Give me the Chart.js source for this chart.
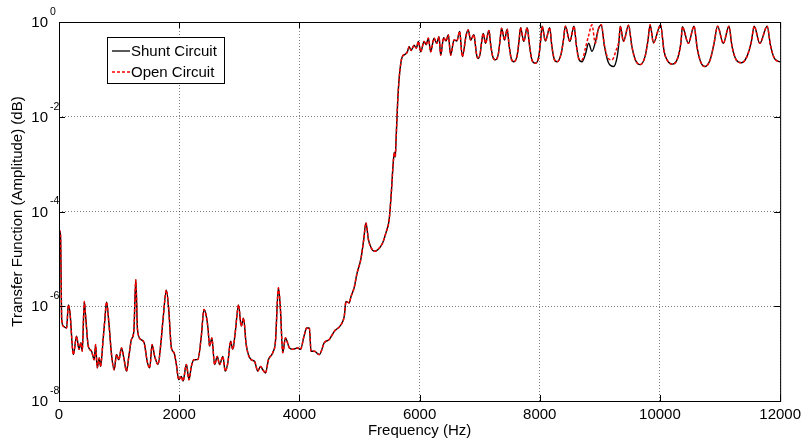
<!DOCTYPE html>
<html>
<head>
<meta charset="utf-8">
<script src="https://cdn.jsdelivr.net/npm/chart.js@4/dist/chart.umd.min.js"></script>
<style>
  html, body { margin: 0; padding: 0; background: #fff; }
  #wrap { width: 806px; height: 447px; position: relative; }
</style>
</head>
<body>
<div id="wrap"><canvas id="chart"></canvas></div>
<script>
// frequency (Hz) and log10 amplitude
const shuntFreq = [
  0, 25, 45, 72, 127, 155, 183, 238, 293, 332, 365, 387, 421, 443, 487, 542, 586, 609, 636, 670,
  691, 736, 763, 791, 830, 874, 918, 957, 996, 1040, 1084, 1123, 1162, 1206, 1245, 1278, 1306, 1361, 1416, 1472,
  1510, 1549, 1593, 1648, 1693, 1731, 1787, 1826, 1870, 1914, 1953, 1992, 2036, 2064, 2119, 2163, 2202, 2246, 2312, 2368,
  2412, 2451, 2479, 2506, 2544, 2589, 2634, 2672, 2727, 2766, 2810, 2855, 2893, 2932, 2988, 3032, 3071, 3115, 3198, 3253,
  3308, 3353, 3391, 3436, 3485, 3557, 3602, 3651, 3685, 3723, 3768, 3834, 3889, 3972, 4017, 4083, 4122, 4166, 4194, 4249,
  4332, 4415, 4498, 4581, 4692, 4747, 4775, 4830, 4858, 4913, 4960, 5024, 5070, 5107, 5150, 5200, 5245, 5310, 5383, 5440,
  5494, 5530, 5560, 5580, 5595, 5610, 5635, 5660, 5690, 5714, 5760, 5797, 5826, 5860, 5909, 5945, 5981, 6019, 6075, 6110,
  6146, 6185, 6241, 6285, 6324, 6351, 6400, 6440, 6478, 6517, 6573, 6620, 6667, 6711, 6777, 6810, 6850, 6905, 6930, 6950,
  6976, 7010, 7035, 7059, 7098, 7154, 7185, 7220, 7264, 7310, 7338, 7364, 7414, 7458, 7490, 7525, 7568, 7625, 7655, 7680,
  7734, 7790, 7830, 7870, 7928, 7985, 8012, 8039, 8094, 8166, 8200, 8240, 8287, 8350, 8390, 8426, 8500, 8570, 8610, 8650,
  8702, 8760, 8813, 8869, 8930, 8975, 9024, 9075, 9140, 9228, 9290, 9318, 9339, 9394, 9477, 9532, 9588, 9671, 9754, 9798,
  9837, 9892, 10010, 10069, 10152, 10207, 10296, 10351, 10373, 10473, 10567, 10620, 10680, 10750, 10840, 10900, 10959, 11054, 11148, 11200,
  11270, 11358, 11450, 11520, 11568, 11662, 11784, 11840, 11910, 12000
];
const shuntExp = [
  -4.39, -4.5, -6.28, -6.42, -6.46, -5.97, -6.14, -7.02, -6.63, -6.91, -6.77, -6.95, -5.90, -6.21, -6.84, -6.95, -7.13, -6.81, -7.30, -7.09,
  -7.27, -6.67, -6.28, -5.91, -6.35, -7.02, -7.34, -7.02, -7.13, -6.88, -7.13, -7.37, -7.06, -6.70, -6.53, -5.44, -6.49, -6.70, -6.77, -7.19,
  -7.30, -6.81, -7.06, -7.23, -6.81, -6.28, -5.66, -6.07, -6.88, -6.98, -7.23, -7.55, -7.48, -7.58, -7.23, -7.55, -7.27, -7.13, -7.12, -6.63,
  -6.07, -6.21, -6.46, -6.84, -6.67, -7.23, -7.06, -7.23, -7.06, -7.37, -7.19, -6.74, -6.91, -6.56, -5.97, -6.42, -6.25, -6.81, -7.13, -7.16,
  -7.37, -7.27, -7.34, -7.41, -7.13, -6.98, -6.74, -5.61, -6.07, -6.98, -6.67, -6.88, -6.91, -6.88, -6.91, -6.60, -6.46, -6.46, -6.95, -6.95,
  -7.02, -6.77, -6.70, -6.53, -6.39, -6.21, -5.90, -5.93, -5.80, -5.60, -5.30, -5.00, -4.60, -4.24, -4.60, -4.78, -4.84, -4.80, -4.67, -4.45,
  -4.17, -3.60, -3.00, -2.75, -2.85, -2.45, -1.70, -1.19, -0.85, -0.73, -0.68, -0.63, -0.52, -0.60, -0.49, -0.55, -0.41, -0.63, -0.41, -0.48,
  -0.34, -0.63, -0.34, -0.45, -0.31, -0.70, -0.33, -0.40, -0.27, -0.70, -0.38, -0.40, -0.20, -0.73, -0.27, -0.17, -0.38, -0.27, -0.50, -0.70,
  -0.77, -0.65, -0.40, -0.24, -0.45, -0.18, -0.50, -0.74, -0.80, -0.68, -0.40, -0.13, -0.38, -0.15, -0.50, -0.77, -0.84, -0.70, -0.40, -0.12,
  -0.41, -0.12, -0.50, -0.80, -0.87, -0.72, -0.42, -0.09, -0.40, -0.12, -0.50, -0.78, -0.84, -0.70, -0.42, -0.09, -0.41, -0.09, -0.50, -0.78,
  -0.84, -0.68, -0.45, -0.62, -0.40, -0.15, -0.06, -0.50, -0.85, -0.94, -0.72, -0.42, -0.09, -0.41, -0.07, -0.51, -0.79, -0.90, -0.72, -0.41,
  -0.06, -0.44, -0.06, -0.62, -0.86, -0.89, -0.76, -0.41, -0.10, -0.45, -0.09, -0.55, -0.85, -0.94, -0.78, -0.45, -0.09, -0.45, -0.09, -0.52,
  -0.80, -0.86, -0.72, -0.42, -0.09, -0.45, -0.09, -0.50, -0.78, -0.84
];
// open circuit only departs from the shunt curve between these frequencies
const openFreq = [8702, 8760, 8810, 8869, 8924, 8975, 9024, 9075, 9130, 9200, 9270, 9318, 9339];
const openExp  = [-0.80, -0.55, -0.30, -0.06, -0.45, -0.15, -0.06, -0.48, -0.75, -0.80, -0.60, -0.38, -0.09];

const xTicks = [0, 2000, 4000, 6000, 8000, 10000, 12000];
const yDecades = [0, -2, -4, -6, -8];

const FONT = '"Liberation Sans", Arial, Helvetica, sans-serif';

function toPoints(freqs, exps) {
  return freqs.map((f, i) => ({ x: f, y: Math.pow(10, exps[i]) }));
}

const shuntPts = toPoints(shuntFreq, shuntExp);
const openPts = shuntPts
  .filter(p => p.x < openFreq[0] || p.x > openFreq[openFreq.length - 1])
  .concat(toPoints(openFreq, openExp))
  .sort((a, b) => a.x - b.x);

// MATLAB style frame, inward ticks, exponent tick labels and legend box
const matlabFrame = {
  id: 'matlabFrame',
  afterDraw(chart) {
    const { ctx, chartArea: a, scales } = chart;
    const xs = scales.x, ys = scales.y;
    ctx.save();
    ctx.strokeStyle = '#000';
    ctx.lineWidth = 1;
    ctx.setLineDash([]);
    ctx.strokeRect(a.left + 0.5, a.top + 0.5, a.right - a.left, a.bottom - a.top);

    ctx.beginPath();
    xTicks.forEach(v => {
      const px = Math.round(xs.getPixelForValue(v)) + 0.5;
      ctx.moveTo(px, a.bottom); ctx.lineTo(px, a.bottom - 6);
      ctx.moveTo(px, a.top); ctx.lineTo(px, a.top + 6);
    });
    yDecades.forEach(e => {
      const py = Math.round(ys.getPixelForValue(Math.pow(10, e))) + 0.5;
      ctx.moveTo(a.left, py); ctx.lineTo(a.left + 6, py);
      ctx.moveTo(a.right, py); ctx.lineTo(a.right - 6, py);
    });
    ctx.stroke();

    ctx.fillStyle = '#000';
    yDecades.forEach(e => {
      const py = ys.getPixelForValue(Math.pow(10, e));
      ctx.font = '15px ' + FONT;
      ctx.textAlign = 'right';
      ctx.textBaseline = 'middle';
      ctx.fillText('10', a.left - 11, py + 1);
      ctx.font = '10.5px ' + FONT;
      ctx.textAlign = 'left';
      ctx.fillText(String(e), a.left - 9, py - 10);
    });

    // legend
    const bx = a.left + 48, by = a.top + 15, bw = 117, bh = 46;
    ctx.fillStyle = '#fff';
    ctx.fillRect(bx, by, bw, bh);
    ctx.strokeStyle = '#000';
    ctx.strokeRect(bx + 0.5, by + 0.5, bw, bh);
    const rows = [
      { label: 'Shunt Circuit', color: '#000', dash: [] , y: by + 14 },
      { label: 'Open Circuit', color: '#ff0000', dash: [3, 2], y: by + 35 }
    ];
    rows.forEach(r => {
      ctx.beginPath();
      ctx.strokeStyle = r.color;
      ctx.lineWidth = 1.3;
      ctx.setLineDash(r.dash);
      ctx.moveTo(bx + 5, r.y);
      ctx.lineTo(bx + 23, r.y);
      ctx.stroke();
      ctx.setLineDash([]);
      ctx.fillStyle = '#000';
      ctx.font = '15px ' + FONT;
      ctx.textAlign = 'left';
      ctx.textBaseline = 'middle';
      ctx.fillText(r.label, bx + 24, r.y + 1);
    });
    ctx.restore();
  }
};

new Chart(document.getElementById('chart'), {
  type: 'line',
  data: {
    datasets: [
      {
        label: 'Open Circuit',
        data: openPts,
        borderColor: '#ff0000',
        borderWidth: 1.5,
        borderDash: [3, 2],
        pointRadius: 0,
        cubicInterpolationMode: 'monotone',
        order: 0
      },
      {
        label: 'Shunt Circuit',
        data: shuntPts,
        borderColor: '#000',
        borderWidth: 1.4,
        pointRadius: 0,
        cubicInterpolationMode: 'monotone',
        order: 1
      }
    ]
  },
  options: {
    responsive: true,
    maintainAspectRatio: false,
    animation: false,
    layout: { padding: { top: 22, right: 24, left: 0, bottom: 0 } },
    plugins: { legend: { display: false }, tooltip: { enabled: false } },
    scales: {
      x: {
        type: 'linear',
        min: 0,
        max: 12000,
        afterBuildTicks: s => { s.ticks = xTicks.map(v => ({ value: v })); },
        afterFit: s => { s.height = 46; },
        ticks: {
          color: '#000',
          font: { family: FONT, size: 15 },
          padding: 5,
          maxRotation: 0,
          callback: v => String(v)
        },
        grid: { color: 'rgba(0,0,0,0.5)', lineWidth: 1, drawTicks: false },
        border: { display: false, dash: [1, 2] },
        title: {
          display: true,
          text: 'Frequency (Hz)',
          color: '#000',
          font: { family: FONT, size: 15 },
          padding: { top: 0, bottom: 7 }
        }
      },
      y: {
        type: 'logarithmic',
        min: 1e-8,
        max: 1,
        afterBuildTicks: s => { s.ticks = yDecades.map(e => ({ value: Math.pow(10, e) })); },
        afterFit: s => { s.width = 59; },
        ticks: { display: false },
        grid: { color: 'rgba(0,0,0,0.5)', lineWidth: 1, drawTicks: false },
        border: { display: false, dash: [1, 2] },
        title: {
          display: true,
          text: 'Transfer Function (Amplitude) (dB)',
          color: '#000',
          font: { family: FONT, size: 15 },
          padding: { top: 9, bottom: 0 }
        }
      }
    }
  },
  plugins: [matlabFrame]
});
</script>
</body>
</html>
